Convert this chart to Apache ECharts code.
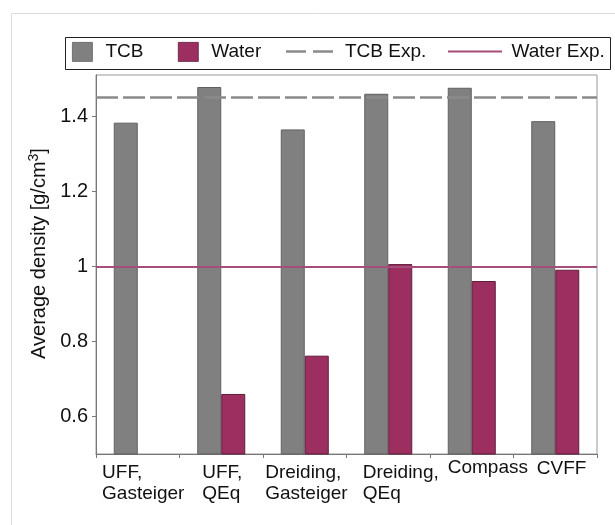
<!DOCTYPE html>
<html><head><meta charset="utf-8">
<script src="https://cdn.jsdelivr.net/npm/echarts@6/dist/echarts.min.js"></script>
<style>html,body{margin:0;padding:0;background:#fff}#c{width:615px;height:525px}</style>
</head><body><div id="c"></div>
<script>
// ---- data ----
const categories = ['UFF,\nGasteiger', 'UFF,\nQEq', 'Dreiding,\nGasteiger', 'Dreiding,\nQEq', 'Compass', 'CVFF'];
const tcbValues = [1.383, 1.478, 1.365, 1.460, 1.476, 1.387];
const waterValues = [null, 0.660, 0.762, 1.006, 0.961, 0.991];
const tcbExp = 1.45;
const waterExp = 0.997;
const yTickValues = [0.6, 0.8, 1.0, 1.2, 1.4];
const seriesNames = ['TCB', 'Water', 'TCB Exp.', 'Water Exp.'];
const yName = 'Average density [g/cm';
const ySup = '3';

// ---- style ----
const FONT = 'Liberation Sans, Arial, sans-serif';
const labelShift = [35.7, 19, 39.5, 25.5, 24, 18.5];
const labelDrop = [6, 6, 6, 6, 1, 2.5];
const rich = {};
categories.forEach((c, i) => {
  rich['t' + i] = { width: labelShift[i], align: 'left', fontSize: 19, lineHeight: 21, fontFamily: FONT, color: '#111' };
  rich['p' + i] = { fontSize: 1, lineHeight: labelDrop[i], width: 1 };
});
const dashIcon = 'path://M0,0H20V2.5H0ZM27,0H47V2.5H27ZM54,0L54,2.5L54,0Z';
const solidIcon = 'path://M0,0H54V2.2H0Z';

const chart = echarts.init(document.getElementById('c'), null, { renderer: 'canvas' });
chart.setOption({
  animation: false,
  backgroundColor: '#fff',
  graphic: [
    { type: 'rect', z: -10, shape: { x: 11.5, y: 13.5, width: 700, height: 600 }, style: { fill: 'none', stroke: '#dcdcdc', lineWidth: 1 } },
    { type: 'rect', z: 0, shape: { x: 65.5, y: 37.5, width: 545, height: 32 }, style: { fill: 'none', stroke: '#222', lineWidth: 1 } }
  ],
  legend: [
    {
      data: [{ name: seriesNames[0], icon: 'rect' }, { name: seriesNames[1], icon: 'rect' }],
      left: 72, top: 42, padding: 0,
      itemWidth: 20, itemHeight: 19, itemGap: 34.5,
      itemStyle: { borderWidth: 0.8 },
      textStyle: { fontSize: 19, fontFamily: FONT, color: '#111', padding: [0, 0, 0, 8] }
    },
    {
      data: [
        { name: seriesNames[2], icon: dashIcon, textStyle: { padding: [0, 0, 0, 0] } },
        { name: seriesNames[3], icon: solidIcon, textStyle: { padding: [0, 0, 0, 4.5] } }
      ],
      left: 286, top: 42, padding: 0,
      itemWidth: 54, itemHeight: 19, itemGap: 21.7,
      itemStyle: { borderWidth: 0 },
      textStyle: { fontSize: 19, fontFamily: FONT, color: '#111' }
    }
  ],
  grid: { left: 96, top: 75, right: 18, bottom: 71, show: true, borderColor: '#999', borderWidth: 1 },
  xAxis: {
    type: 'category',
    data: categories,
    axisLine: { lineStyle: { color: '#777', width: 1 } },
    axisTick: { show: true, length: 4, lineStyle: { color: '#777' } },
    axisLabel: {
      interval: 0, align: 'right', margin: 2,
      formatter: (v, i) => '{p' + i + '| }\n' + v.split('\n').map(l => '{t' + i + '|' + l + '}').join('\n'),
      rich: rich
    }
  },
  yAxis: {
    type: 'value', min: 0.5, max: 1.51,
    splitLine: { show: false },
    axisLine: { show: true, lineStyle: { color: '#777', width: 1 } },
    axisTick: { show: true, length: 4, customValues: yTickValues, lineStyle: { color: '#777' } },
    axisLabel: { customValues: yTickValues, margin: 8, fontSize: 20, fontFamily: FONT, color: '#111' },
    name: '{a|' + yName + '}{b|' + ySup + '}{a|]}',
    nameLocation: 'middle', nameGap: 41,
    nameTextStyle: {
      padding: [0, 0, 0, 22],
      rich: {
        a: { fontSize: 20, fontFamily: FONT, color: '#111', lineHeight: 24 },
        b: { fontSize: 14, fontFamily: FONT, color: '#111', verticalAlign: 'top', lineHeight: 14 }
      }
    }
  },
  series: [
    {
      name: seriesNames[0], type: 'bar', data: tcbValues,
      barWidth: 24, barGap: '0%',
      itemStyle: { color: '#808080', borderColor: '#606060', borderWidth: 1 }
    },
    {
      name: seriesNames[1], type: 'bar', data: waterValues,
      barWidth: 24, barGap: '0%',
      itemStyle: { color: '#9c2f60', borderColor: '#5e1c3a', borderWidth: 1 }
    },
    {
      name: seriesNames[2], type: 'line', data: [], symbol: 'none',
      itemStyle: { color: '#8a8a8a' },
      lineStyle: { color: '#8a8a8a', width: 2.5, type: [22, 5] },
      markLine: {
        silent: true, symbol: ['none', 'none'], label: { show: false }, z: 5,
        lineStyle: { color: '#8a8a8a', width: 2.5, type: [22, 5] },
        data: [{ yAxis: tcbExp }]
      }
    },
    {
      name: seriesNames[3], type: 'line', data: [], symbol: 'none',
      itemStyle: { color: '#a64d7a' },
      lineStyle: { color: '#a64d7a', width: 2 },
      markLine: {
        silent: true, symbol: ['none', 'none'], label: { show: false }, z: 5,
        lineStyle: { color: '#a64d7a', width: 2, type: 'solid' },
        data: [{ yAxis: waterExp }]
      }
    }
  ]
});
</script>
</body></html>
